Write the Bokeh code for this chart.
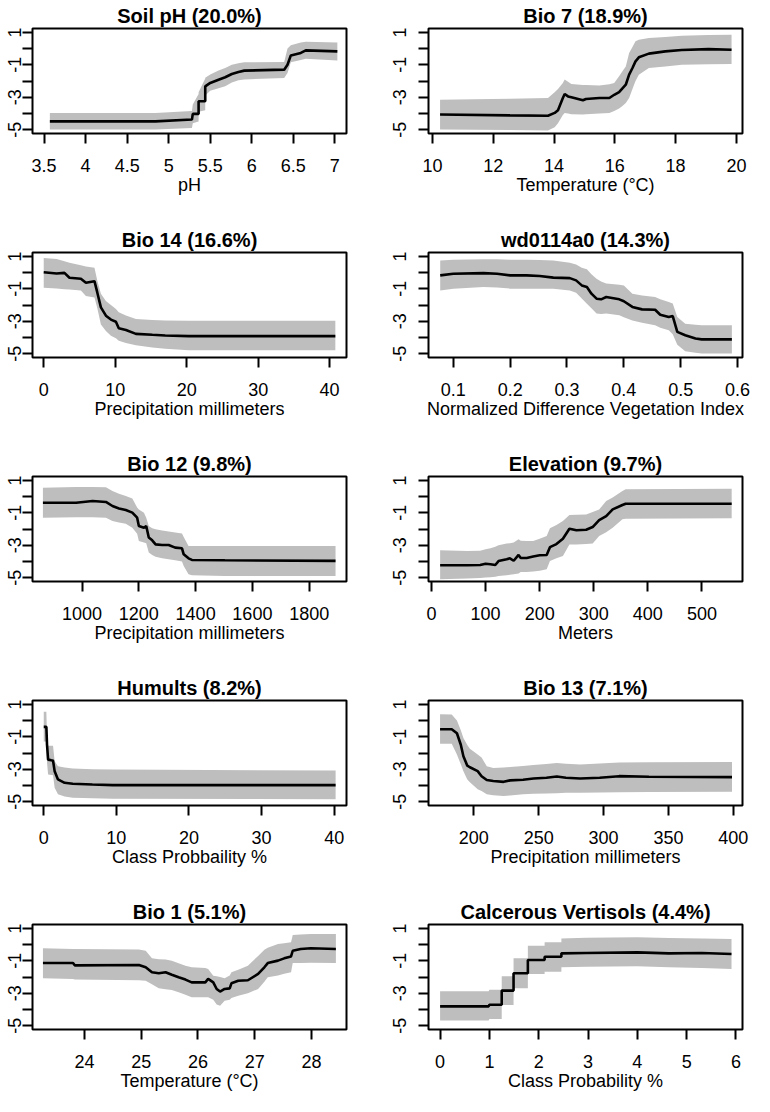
from bokeh.plotting import figure
from bokeh.layouts import column, row
from bokeh.models import FixedTicker, PrintfTickFormatter, Range1d, ColumnDataSource
from bokeh.embed import file_html
from bokeh.resources import INLINE

# ---------------- data ----------------
titles = ["Soil pH (20.0%)", "Bio 7 (18.9%)", "Bio 14 (16.6%)", "wd0114a0 (14.3%)",
          "Bio 12 (9.8%)", "Elevation (9.7%)", "Humults (8.2%)", "Bio 13 (7.1%)",
          "Bio 1 (5.1%)", "Calcerous Vertisols (4.4%)"]
xlabels = ["pH", "Temperature (°C)", "Precipitation millimeters",
           "Normalized Difference Vegetation Index", "Precipitation millimeters", "Meters",
           "Class Probbaility %", "Precipitation millimeters", "Temperature (°C)",
           "Class Probability %"]

ph_x = [3.57, 4.84, 5.28, 5.29, 5.36, 5.36, 5.44, 5.44, 5.50, 5.60, 5.68, 5.76, 5.84, 5.91, 6.39, 6.43, 6.47, 6.59, 6.65, 7.03]
ph_y = [-4.49, -4.49, -4.38, -4.03, -4.03, -3.25, -3.25, -2.33, -2.12, -1.92, -1.77, -1.57, -1.45, -1.36, -1.30, -1.00, -0.42, -0.27, -0.11, -0.17]
ph_hi = [-3.97, -3.97, -3.85, -3.45, -2.80, -2.70, -1.85, -1.80, -1.60, -1.35, -1.20, -1.00, -0.90, -0.85, -0.83, 0.00, 0.20, 0.38, 0.42, 0.38]
ph_lo = [-5.00, -5.00, -4.90, -4.60, -4.50, -3.90, -3.80, -2.90, -2.60, -2.45, -2.33, -2.10, -1.95, -1.90, -1.82, -1.50, -0.85, -0.70, -0.62, -0.73]

bio7_x = [10.25, 12.55, 13.80, 14.02, 14.13, 14.29, 14.35, 14.46, 14.57, 14.95, 15.05, 15.49, 15.82, 15.98, 16.14, 16.25, 16.36, 16.47, 16.58, 16.68, 16.79, 17.12, 17.66, 18.20, 19.08, 19.84]
bio7_y = [-4.07, -4.12, -4.14, -3.97, -3.80, -3.05, -2.80, -2.95, -3.00, -3.19, -3.11, -3.05, -3.05, -2.85, -2.68, -2.45, -2.23, -1.61, -1.20, -0.79, -0.54, -0.31, -0.17, -0.09, -0.03, -0.07]
bio7_hi = [-3.15, -3.10, -3.05, -2.70, -2.50, -2.12, -1.90, -2.05, -2.18, -2.25, -2.25, -2.27, -2.20, -2.12, -1.71, -1.40, -1.10, -0.27, 0.10, 0.45, 0.55, 0.65, 0.72, 0.79, 0.84, 0.86]
bio7_lo = [-5.00, -5.03, -5.06, -4.85, -4.60, -4.10, -3.97, -4.00, -4.05, -4.07, -4.05, -4.00, -3.97, -3.85, -3.70, -3.55, -3.35, -3.05, -2.50, -2.00, -1.61, -1.20, -1.10, -0.99, -0.96, -0.95]

bio14_x = [0.0, 1.8, 2.9, 3.6, 5.2, 5.9, 7.1, 7.5, 8.0, 8.7, 9.4, 10.1, 10.5, 11.5, 12.9, 15.2, 17.0, 20.3, 40.8]
bio14_y = [0.02, -0.06, -0.02, -0.32, -0.38, -0.63, -0.53, -1.24, -2.15, -2.66, -2.90, -3.03, -3.43, -3.54, -3.78, -3.84, -3.88, -3.92, -3.92]
bio14_hi = [0.90, 0.84, 0.70, 0.60, 0.45, 0.38, 0.30, -0.50, -1.30, -1.75, -2.00, -2.25, -2.45, -2.65, -2.86, -2.92, -2.95, -2.97, -2.97]
bio14_lo = [-0.93, -0.98, -1.03, -1.05, -1.10, -1.45, -1.54, -2.20, -3.20, -3.60, -3.90, -4.05, -4.20, -4.35, -4.49, -4.62, -4.70, -4.80, -4.80]

ndvi_x = [0.077, 0.10, 0.153, 0.177, 0.20, 0.229, 0.252, 0.276, 0.305, 0.316, 0.326, 0.335, 0.343, 0.352, 0.36, 0.369, 0.392, 0.40, 0.415, 0.432, 0.455, 0.464, 0.479, 0.486, 0.494, 0.508, 0.526, 0.537, 0.59]
ndvi_y = [-0.17, -0.07, -0.03, -0.07, -0.17, -0.17, -0.21, -0.31, -0.34, -0.48, -0.79, -0.89, -1.30, -1.61, -1.65, -1.51, -1.65, -1.77, -2.12, -2.27, -2.29, -2.60, -2.74, -2.68, -3.66, -3.87, -4.07, -4.12, -4.12]
ndvi_hi = [0.75, 0.80, 0.82, 0.82, 0.80, 0.80, 0.78, 0.75, 0.60, 0.50, 0.30, 0.20, -0.10, -0.38, -0.55, -0.68, -0.75, -0.79, -1.30, -1.42, -1.51, -1.65, -1.81, -1.90, -2.74, -3.15, -3.22, -3.25, -3.25]
ndvi_lo = [-1.10, -1.00, -0.89, -0.92, -0.99, -0.99, -0.99, -0.99, -1.10, -1.24, -1.60, -1.92, -2.20, -2.53, -2.55, -2.53, -2.64, -2.75, -2.95, -3.10, -3.25, -3.40, -3.56, -3.80, -4.45, -4.86, -4.95, -5.00, -5.00]

bio12_x = [862, 979, 1037, 1084, 1107, 1130, 1154, 1177, 1194, 1200, 1218, 1226, 1235, 1247, 1259, 1282, 1305, 1328, 1352, 1358, 1375, 1387, 1503, 1893]
bio12_y = [-0.38, -0.38, -0.27, -0.33, -0.58, -0.73, -0.83, -0.99, -1.30, -1.81, -1.92, -1.81, -2.53, -2.70, -2.95, -2.99, -2.99, -3.15, -3.19, -3.56, -3.81, -3.91, -3.93, -3.97]
bio12_hi = [0.55, 0.59, 0.59, 0.57, 0.34, 0.18, 0.03, -0.11, -0.68, -0.80, -0.99, -1.30, -1.81, -1.95, -2.02, -2.10, -2.15, -2.22, -2.28, -2.50, -3.05, -3.05, -3.05, -3.05]
bio12_lo = [-1.30, -1.27, -1.28, -1.30, -1.51, -1.60, -1.67, -1.92, -2.30, -2.74, -2.84, -2.88, -3.45, -3.60, -3.72, -3.80, -3.86, -3.93, -4.00, -4.28, -4.79, -4.85, -4.90, -4.90]

elev_x = [16, 66, 90, 100, 109, 118, 124, 139, 145, 152, 161, 165, 176, 188, 200, 213, 219, 231, 243, 255, 268, 286, 298, 310, 323, 335, 353, 359, 555]
elev_y = [-4.24, -4.24, -4.22, -4.14, -4.18, -4.22, -3.98, -3.87, -3.81, -3.96, -3.60, -3.79, -3.79, -3.70, -3.62, -3.60, -3.12, -2.93, -2.60, -1.98, -2.08, -2.05, -1.88, -1.45, -1.20, -0.79, -0.52, -0.44, -0.44]
elev_hi = [-3.31, -3.36, -3.34, -3.25, -3.19, -3.10, -3.00, -2.90, -2.88, -2.84, -2.64, -2.72, -2.74, -2.74, -2.60, -2.43, -1.96, -1.75, -1.51, -1.14, -1.12, -1.10, -0.95, -0.80, -0.27, -0.05, 0.35, 0.45, 0.49]
elev_lo = [-5.10, -5.05, -5.02, -5.00, -4.97, -4.95, -4.90, -4.85, -4.82, -4.79, -4.75, -4.65, -4.65, -4.63, -4.58, -4.49, -3.97, -3.80, -3.66, -2.95, -2.95, -2.93, -2.90, -2.43, -2.20, -1.92, -1.40, -1.36, -1.34]

humu_x = [0.0, 0.36, 0.45, 0.6, 1.05, 1.28, 1.5, 1.96, 2.87, 4.0, 6.7, 9.5, 40.2]
humu_y = [-0.39, -0.39, -1.49, -2.41, -2.45, -2.47, -3.12, -3.63, -3.84, -3.90, -3.94, -3.98, -3.98]
humu_hi = [0.55, 0.55, -1.00, -1.55, -1.55, -1.55, -2.51, -2.82, -2.90, -2.96, -3.00, -3.02, -3.08]
humu_lo = [-1.29, -1.29, -2.60, -3.33, -3.35, -3.37, -4.14, -4.55, -4.68, -4.76, -4.80, -4.82, -4.86]

bio13_x = [174, 183, 187, 190, 192, 195, 197, 203, 206, 210, 215, 223, 228, 238, 246, 256, 264, 271, 282, 297, 312, 335, 399]
bio13_y = [-0.53, -0.53, -0.78, -1.49, -2.20, -2.78, -2.88, -3.12, -3.43, -3.67, -3.73, -3.78, -3.69, -3.65, -3.57, -3.53, -3.45, -3.53, -3.57, -3.53, -3.43, -3.47, -3.49]
bio13_hi = [0.39, 0.37, 0.00, -0.60, -1.08, -1.50, -1.73, -2.10, -2.27, -2.82, -2.92, -2.90, -2.86, -2.80, -2.74, -2.68, -2.61, -2.66, -2.71, -2.65, -2.58, -2.57, -2.55]
bio13_lo = [-1.43, -1.43, -2.10, -2.70, -3.12, -3.63, -3.80, -4.24, -4.35, -4.55, -4.60, -4.65, -4.62, -4.55, -4.52, -4.50, -4.48, -4.45, -4.45, -4.44, -4.42, -4.40, -4.39]

bio1_x = [23.27, 23.80, 23.83, 24.96, 25.08, 25.19, 25.31, 25.43, 25.54, 25.66, 25.78, 25.89, 26.13, 26.18, 26.27, 26.33, 26.39, 26.47, 26.56, 26.59, 26.71, 26.88, 27.06, 27.17, 27.23, 27.41, 27.52, 27.64, 27.67, 27.81, 27.99, 28.43]
bio1_y = [-1.14, -1.14, -1.28, -1.26, -1.40, -1.71, -1.77, -1.71, -1.86, -2.02, -2.16, -2.33, -2.33, -2.12, -2.33, -2.74, -2.90, -2.74, -2.70, -2.39, -2.23, -2.20, -1.81, -1.40, -1.14, -0.99, -0.85, -0.73, -0.38, -0.27, -0.23, -0.27]
bio1_hi = [-0.23, -0.27, -0.27, -0.30, -0.38, -0.85, -0.90, -0.92, -0.99, -1.15, -1.30, -1.40, -1.45, -1.51, -1.92, -1.95, -2.00, -2.08, -1.90, -1.71, -1.55, -1.30, -0.70, -0.32, -0.20, 0.03, 0.08, 0.14, 0.59, 0.63, 0.65, 0.65]
bio1_lo = [-2.08, -2.12, -2.15, -2.20, -2.23, -2.45, -2.70, -2.75, -2.80, -2.94, -3.10, -3.25, -3.25, -3.25, -3.40, -3.70, -3.77, -3.46, -3.40, -3.30, -3.15, -3.00, -2.74, -2.30, -2.02, -1.90, -1.80, -1.71, -1.14, -1.14, -1.12, -1.14]

vert_x = [0.0, 0.985, 1.0, 1.25, 1.25, 1.49, 1.49, 1.78, 1.78, 2.12, 2.12, 2.46, 2.46, 2.96, 4.0, 4.64, 5.31, 5.91]
vert_y = [-3.81, -3.81, -3.71, -3.71, -2.84, -2.84, -1.77, -1.77, -0.95, -0.95, -0.75, -0.75, -0.54, -0.52, -0.48, -0.54, -0.52, -0.58]
vert_hi = [-2.88, -2.88, -2.78, -2.78, -1.96, -1.96, -0.85, -0.85, -0.07, -0.07, 0.14, 0.14, 0.38, 0.42, 0.45, 0.40, 0.38, 0.34]
vert_lo = [-4.69, -4.69, -4.59, -4.59, -3.73, -3.73, -2.70, -2.70, -1.81, -1.81, -1.67, -1.67, -1.40, -1.36, -1.34, -1.40, -1.45, -1.51]

xs = [ph_x, bio7_x, bio14_x, ndvi_x, bio12_x, elev_x, humu_x, bio13_x, bio1_x, vert_x]
ys = [ph_y, bio7_y, bio14_y, ndvi_y, bio12_y, elev_y, humu_y, bio13_y, bio1_y, vert_y]
his = [ph_hi, bio7_hi, bio14_hi, ndvi_hi, bio12_hi, elev_hi, humu_hi, bio13_hi, bio1_hi, vert_hi]
los = [ph_lo, bio7_lo, bio14_lo, ndvi_lo, bio12_lo, elev_lo, humu_lo, bio13_lo, bio1_lo, vert_lo]

x_ticks = [[3.5, 4, 4.5, 5, 5.5, 6, 6.5, 7], [10, 12, 14, 16, 18, 20], [0, 10, 20, 30, 40],
           [0.1, 0.2, 0.3, 0.4, 0.5, 0.6], [1000, 1200, 1400, 1600, 1800], [0, 100, 200, 300, 400, 500],
           [0, 10, 20, 30, 40], [200, 250, 300, 350, 400], [24, 25, 26, 27, 28], [0, 1, 2, 3, 4, 5, 6]]
y_major = [-5, -3, -1, 1]
y_minor = [-4, -2, 0]

# ---------------- layout ----------------
xlims = [(3.361, 7.140), (9.87, 20.20), (-1.57, 42.36), (0.0564, 0.6087), (825.3, 1931.6),
         (-5.5, 575.0), (-1.55, 41.7), (165.1, 407.1), (23.086, 28.617), (-0.235, 6.133)]
ylim = (-5.24, 1.24)

FONT = "Liberation Sans"
FRAME_H = 105
TOP = 28
ROW_H = 224
LAST_H = 199
WIDTHS = [372, 382]
BORDERS = [(32, 26), (56, 12)]
LABEL_STANDOFF = [1, 12]
BAND = "#BEBEBE"


def make(i):
    col, r = i % 2, i // 2
    h = LAST_H if r == 4 else ROW_H
    bl, br = BORDERS[col]
    p = figure(width=WIDTHS[col], height=h, output_backend="svg", toolbar_location=None,
               x_range=Range1d(*xlims[i]), y_range=Range1d(*ylim),
               min_border_left=bl, min_border_right=br, min_border_top=TOP,
               min_border_bottom=h - TOP - FRAME_H, title=titles[i])
    p.background_fill_color = "white"
    p.border_fill_color = "white"
    p.outline_line_color = "black"
    p.outline_line_width = 2
    p.xgrid.visible = False
    p.ygrid.visible = False

    p.title.align = "center"
    p.title.text_font = FONT
    p.title.text_font_size = "20px"
    p.title.text_font_style = "bold"
    p.title.text_color = "black"
    p.title.standoff = 4

    src = ColumnDataSource(dict(x=xs[i], y=ys[i], lo=los[i], hi=his[i]))
    p.varea(x="x", y1="lo", y2="hi", source=src, fill_color=BAND, fill_alpha=1.0)
    p.line(x="x", y="y", source=src, line_color="black", line_width=2.6)

    xa = p.xaxis[0]
    xa.ticker = FixedTicker(ticks=x_ticks[i])
    xa.formatter = PrintfTickFormatter(format="%g")
    xa.axis_label = xlabels[i]
    ya = p.yaxis[0]
    ya.ticker = FixedTicker(ticks=y_major, minor_ticks=y_minor)
    ya.formatter = PrintfTickFormatter(format="%g")
    ya.major_label_orientation = "vertical"
    ya.minor_tick_out = 10
    ya.minor_tick_in = 0
    ya.minor_tick_line_color = "black"
    ya.minor_tick_line_width = 2
    ya.major_label_standoff = LABEL_STANDOFF[col]
    xa.minor_tick_line_color = None
    xa.major_label_standoff = 15
    for ax in (xa, ya):
        ax.axis_line_color = None
        ax.major_tick_out = 10
        ax.major_tick_in = 0
        ax.major_tick_line_color = "black"
        ax.major_tick_line_width = 2
        ax.major_label_text_font = FONT
        ax.major_label_text_font_size = "18px"
        ax.major_label_text_color = "black"
        ax.axis_label_text_font = FONT
        ax.axis_label_text_font_size = "18px"
        ax.axis_label_text_font_style = "normal"
        ax.axis_label_text_color = "black"
        ax.axis_label_standoff = 0
    return p


figs = [make(i) for i in range(10)]
layout = column([row(figs[2 * r], figs[2 * r + 1], spacing=0) for r in range(5)], spacing=0)

open("out.html", "w").write(file_html(layout, INLINE))
